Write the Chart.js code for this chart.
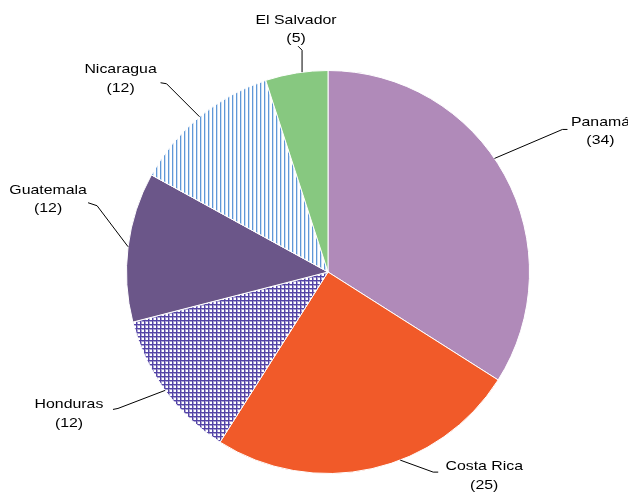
<!DOCTYPE html>
<html><head><meta charset="utf-8">
<script src="https://cdn.jsdelivr.net/npm/chart.js@4"></script>
<style>html,body{margin:0;padding:0;background:#fff;overflow:hidden}</style>
</head><body>
<canvas id="c" width="628" height="495"></canvas>
<script>
// ---- data ----
const categories = ['Panamá', 'Costa Rica', 'Honduras', 'Guatemala', 'Nicaragua', 'El Salvador'];
const values = [34, 25, 12, 12, 12, 5];

// ---- styles ----
function makePattern(kind, color) {
  const p = document.createElement('canvas');
  p.width = 4; p.height = 4;
  const g = p.getContext('2d');
  g.fillStyle = '#fff'; g.fillRect(0, 0, 4, 4);
  g.fillStyle = color;
  if (kind === 'grid') {
    g.fillRect(0, 0, 1, 4); g.fillRect(0, 0, 4, 1);
    g.globalAlpha = 0.5;
    g.fillRect(1, 1, 1, 3); g.fillRect(2, 1, 2, 1);
  } else {
    g.fillRect(0, 0, 1, 4);
    g.globalAlpha = 0.3;
    g.fillRect(1, 0, 1, 4);
  }
  return document.createElement('canvas').getContext('2d').createPattern(p, 'repeat');
}
const fills = [
  '#b08ab9',
  '#f15a29',
  makePattern('grid', '#5343a6'),
  '#6b5689',
  makePattern('vlines', '#5f98d8'),
  '#87c880'
];

// label layout (leader line geometry relative to each slice's edge point)
const labelLayout = [
  { shift: -5.5, elbow: [68, -29],  tick: [5, 0],   text: [33, 2] },
  { shift: -8.4, elbow: [33, 12],   tick: [5, 0],   text: [46, 4] },
  { shift: 0,    elbow: [-47, 18],  tick: [-5, 1],  text: [-44, 4.5] },
  { shift: 0,    elbow: [-31, -41], tick: [-9, -3], text: [-40, -3.5] },
  { shift: 0,    elbow: [-33, -33], tick: [-6, -1], text: [-40, -4] },
  { shift: 1.6,  elbow: [0, -22],   tick: [-4, -4], text: [-2, -17] }
];

const labelPlugin = {
  id: 'leaderLabels',
  afterDatasetsDraw(chart) {
    const ctx = chart.ctx;
    const meta = chart.getDatasetMeta(0);
    meta.data.forEach((arc, i) => {
      const { x, y, startAngle, endAngle, outerRadius } = arc.getProps(['x', 'y', 'startAngle', 'endAngle', 'outerRadius'], true);
      const L = labelLayout[i];
      const a = (startAngle + endAngle) / 2 + L.shift * Math.PI / 180;
      const px = x + Math.cos(a) * outerRadius;
      const py = y + Math.sin(a) * outerRadius;
      const ex = px + L.elbow[0], ey = py + L.elbow[1];
      const tx = ex + L.tick[0], ty = ey + L.tick[1];
      ctx.save();
      ctx.strokeStyle = '#000';
      ctx.lineWidth = 1;
      ctx.beginPath();
      ctx.moveTo(px, py); ctx.lineTo(ex, ey); ctx.lineTo(tx, ty);
      ctx.stroke();
      const lines = [categories[i], '(' + values[i] + ')'];
      const cx = tx + L.text[0], cy = ty + L.text[1];
      ctx.fillStyle = '#000';
      ctx.font = '13px "Liberation Sans", Arial, sans-serif';
      ctx.textAlign = 'center';
      ctx.textBaseline = 'middle';
      lines.forEach((s, k) => {
        ctx.save();
        ctx.translate(cx, cy + (k - 0.5) * 18.5);
        ctx.scale(1.22, 1);
        ctx.fillText(s, 0, 0);
        ctx.restore();
      });
      ctx.restore();
    });
  }
};

new Chart(document.getElementById('c'), {
  type: 'pie',
  data: {
    labels: categories,
    datasets: [{
      data: values,
      backgroundColor: fills,
      borderColor: '#ffffff',
      borderWidth: 1
    }]
  },
  options: {
    responsive: false,
    animation: false,
    layout: { padding: { top: 70, bottom: 21, left: 126, right: 98 } },
    plugins: { legend: { display: false }, tooltip: { enabled: false } }
  },
  plugins: [labelPlugin]
});
</script>
</body></html>
